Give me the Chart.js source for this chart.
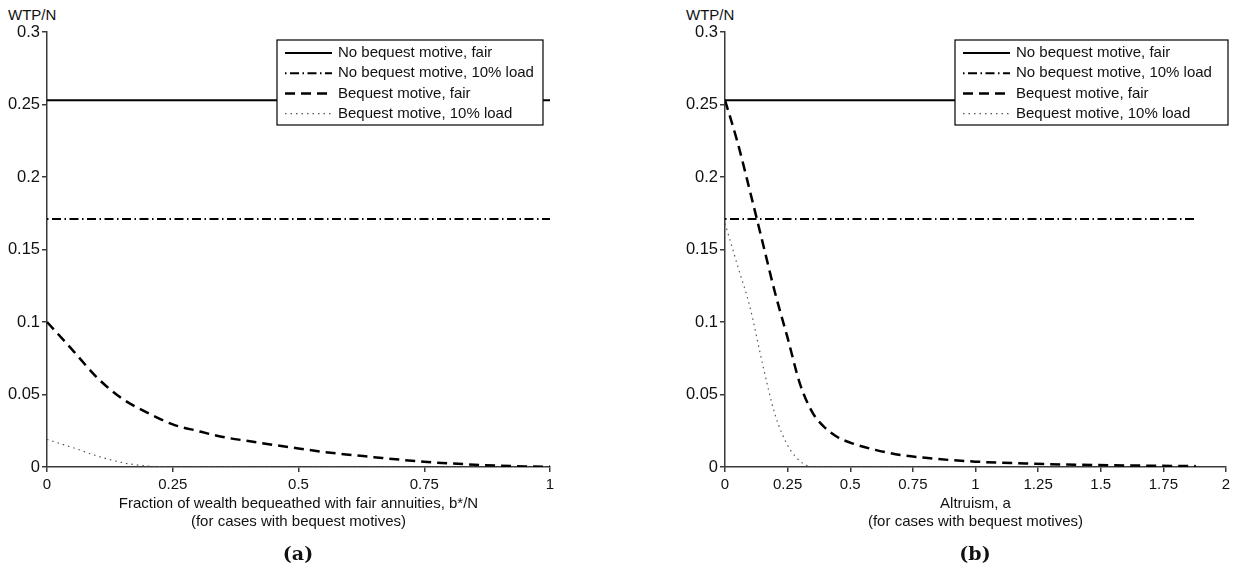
<!DOCTYPE html>
<html>
<head>
<meta charset="utf-8">
<script src="https://cdn.jsdelivr.net/npm/chart.js@4"></script>
<style>
  body { margin: 0; background: #fff; width: 1244px; height: 573px; position: relative; overflow: hidden; font-family: "Liberation Sans", Arial, sans-serif; }
  canvas { position: absolute; top: 0; }
  .ylab { position: absolute; top: 6px; font-size: 15px; line-height: 18px; color: #111; }
  .cap { position: absolute; top: 541px; width: 100px; text-align: center; font: bold 19px/24px "DejaVu Serif", serif; color: #111; }
</style>
</head>
<body>
<div class="ylab" style="left:8px">WTP/N</div>
<div class="ylab" style="left:686px">WTP/N</div>
<canvas id="chartA" width="622" height="573" style="left:0"></canvas>
<canvas id="chartB" width="622" height="573" style="left:622px"></canvas>
<div class="cap" style="left:248px">(a)</div>
<div class="cap" style="left:925px">(b)</div>
<script>
// series names (legend)
var seriesNames = ['No bequest motive, fair', 'No bequest motive, 10% load', 'Bequest motive, fair', 'Bequest motive, 10% load'];

// y axis
var yTicks = [0, 0.05, 0.1, 0.15, 0.2, 0.25, 0.3];
var yTickLabels = ['0', '0.05', '0.1', '0.15', '0.2', '0.25', '0.3'];

// panel (a): x = b*/N
var xTicksA = [0, 0.25, 0.5, 0.75, 1];
var xTickLabelsA = ['0', '0.25', '0.5', '0.75', '1'];
var flatXA = [0, 1];
var noBequestFairA = [0.253, 0.253];
var noBequestLoadA = [0.171, 0.171];
var shareA = [0, 0.05, 0.1, 0.15, 0.2, 0.25, 0.3, 0.35, 0.4, 0.45, 0.5, 0.55, 0.6, 0.65, 0.7, 0.75, 0.8, 0.85, 0.9, 0.95, 1];
var bequestFairA = [0.100, 0.081, 0.0615, 0.047, 0.0374, 0.0294, 0.0248, 0.0207, 0.0179, 0.0153, 0.0128, 0.0104, 0.0085, 0.0068, 0.0051, 0.0036, 0.0025, 0.0016, 0.0009, 0.0004, 0.0001];
var bequestLoadA = [0.019, 0.0135, 0.0076, 0.003, 0.0007, 0, 0, 0, 0, 0, 0, 0, 0, 0, 0, 0, 0, 0, 0, 0, 0];

// panel (b): x = altruism a
var xTicksB = [0, 0.25, 0.5, 0.75, 1, 1.25, 1.5, 1.75, 2];
var xTickLabelsB = ['0', '0.25', '0.5', '0.75', '1', '1.25', '1.5', '1.75', '2'];
var flatXB = [0, 1.88];
var noBequestFairB = [0.253, 0.253];
var noBequestLoadB = [0.171, 0.171];
var altruismB = [0, 0.05, 0.1, 0.15, 0.2, 0.25, 0.3, 0.35, 0.4, 0.45, 0.5, 0.6, 0.7, 0.8, 0.9, 1.0, 1.2, 1.4, 1.6, 1.88];
var bequestFairB = [0.253, 0.224, 0.190, 0.155, 0.120, 0.089, 0.057, 0.0374, 0.027, 0.0205, 0.0168, 0.0118, 0.0083, 0.0063, 0.0048, 0.0037, 0.0024, 0.0016, 0.0011, 0.0006];
var bequestLoadB = [0.168, 0.139, 0.110, 0.071, 0.036, 0.015, 0.004, 0, 0, 0, 0, 0, 0, 0, 0, 0, 0, 0, 0, 0];

function pts(xs, ys) {
    return xs.map(function (x, i) { return { x: x, y: ys[i] }; });
}

function makeDatasets(flatX, fair, load, bx, bFair, bLoad) {
    return [
        { label: seriesNames[0], data: pts(flatX, fair), borderColor: '#000', borderWidth: 2, borderDash: [] },
        { label: seriesNames[1], data: pts(flatX, load), borderColor: '#000', borderWidth: 2, borderDash: [1.5, 3.5, 9, 3.5] },
        { label: seriesNames[2], data: pts(bx, bFair), borderColor: '#000', borderWidth: 2.5, borderDash: [10, 6], cubicInterpolationMode: 'monotone' },
        { label: seriesNames[3], data: pts(bx, bLoad), borderColor: '#555', borderWidth: 1.2, borderDash: [1.5, 4], cubicInterpolationMode: 'monotone' }
    ];
}

// legend drawn as a framed box on top of the lines
var boxLegend = {
    id: 'boxLegend',
    afterDraw: function (chart, args, opts) {
        var ctx = chart.ctx;
        var x = chart.chartArea.left + opts.offsetX, y = opts.top;
        ctx.save();
        ctx.fillStyle = '#fff';
        ctx.fillRect(x, y, opts.width, opts.height);
        ctx.strokeStyle = '#000';
        ctx.lineWidth = 1.2;
        ctx.strokeRect(x, y, opts.width, opts.height);
        ctx.font = '15px "Liberation Sans", Arial, sans-serif';
        ctx.textBaseline = 'middle';
        chart.data.datasets.forEach(function (ds, i) {
            var ry = y + 13 + i * 20.2;
            ctx.beginPath();
            ctx.strokeStyle = ds.borderColor;
            ctx.lineWidth = ds.borderWidth;
            ctx.setLineDash(ds.borderDash);
            ctx.moveTo(x + 8, ry);
            ctx.lineTo(x + 55, ry);
            ctx.stroke();
            ctx.setLineDash([]);
            ctx.fillStyle = '#111';
            ctx.fillText(ds.label, x + 61, ry);
        });
        ctx.restore();
    }
};

function makeChart(id, datasets, xMax, xTicks, xLabels, xTitle, yWidth, padRight, legendWidth) {
    var axisColor = '#3a3a3a';
    var family = '"Liberation Sans", Arial, sans-serif';
    return new Chart(id, {
        type: 'line',
        data: { datasets: datasets },
        options: {
            responsive: false,
            animation: false,
            devicePixelRatio: 1,
            layout: { padding: { top: 32, left: 0, right: padRight, bottom: 0 } },
            elements: { point: { radius: 0 }, line: { tension: 0 } },
            plugins: {
                legend: { display: false },
                tooltip: { enabled: false },
                boxLegend: { offsetX: 230, top: 40, width: legendWidth, height: 85 }
            },
            scales: {
                x: {
                    type: 'linear', min: 0, max: xMax,
                    afterFit: function (s) { s.height = 106; },
                    afterBuildTicks: function (s) { s.ticks = xTicks.map(function (v) { return { value: v }; }); },
                    ticks: { color: '#111', font: { family: family, size: 15 }, padding: 4, maxRotation: 0, callback: function (v, i) { return xLabels[i]; } },
                    grid: { display: true, drawOnChartArea: false, drawTicks: true, tickLength: 5, color: axisColor, lineWidth: 1.5 },
                    border: { display: true, color: axisColor, width: 1.5 },
                    title: { display: true, text: xTitle, color: '#111', font: { family: family, size: 15, lineHeight: 1.2 }, padding: { top: 0, bottom: 42 } }
                },
                y: {
                    type: 'linear', min: 0, max: 0.3,
                    afterFit: function (s) { s.width = yWidth; },
                    afterBuildTicks: function (s) { s.ticks = yTicks.map(function (v) { return { value: v }; }); },
                    ticks: { color: '#111', font: { family: family, size: 16.5 }, padding: 2, callback: function (v, i) { return yTickLabels[i]; } },
                    grid: { display: true, drawOnChartArea: false, drawTicks: true, tickLength: 5, color: axisColor, lineWidth: 1.5 },
                    border: { display: true, color: axisColor, width: 1.5 }
                }
            }
        },
        plugins: [boxLegend]
    });
}

makeChart('chartA', makeDatasets(flatXA, noBequestFairA, noBequestLoadA, shareA, bequestFairA, bequestLoadA),
    1, xTicksA, xTickLabelsA,
    ['Fraction of wealth bequeathed with fair annuities, b*/N', '(for cases with bequest motives)'],
    47, 72, 266);

makeChart('chartB', makeDatasets(flatXB, noBequestFairB, noBequestLoadB, altruismB, bequestFairB, bequestLoadB),
    2, xTicksB, xTickLabelsB,
    ['Altruism, a', '(for cases with bequest motives)'],
    103, 18, 273);
</script>
</body>
</html>
